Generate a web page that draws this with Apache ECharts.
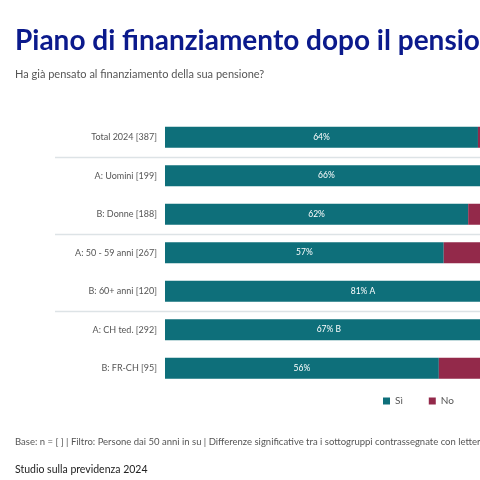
<!DOCTYPE html>
<html><head><meta charset="utf-8">
<script src="https://cdn.jsdelivr.net/npm/echarts@6/dist/echarts.min.js"></script>
<style>html,body{margin:0;padding:0;background:#fff}#c{width:480px;height:480px}</style>
</head><body><div id="c"></div>
<script>
const categories = ["Total 2024 [387]","A: Uomini [199]","B: Donne [188]","A: 50 - 59 anni [267]","B: 60+ anni [120]","A: CH ted. [292]","B: FR-CH [95]"];
const siValues = [64,66,62,57,81,67,56];
const noValues = [36,34,38,43,19,33,44];
const sigLetters = ["","","","","A","B",""];
const separatorsAfter = [0,2,4];
const font = "Lato, 'Noto Sans', sans-serif";
const chart = echarts.init(document.getElementById('c'));
chart.setOption({
  animation:false,
  textStyle:{fontFamily:font},
  title:[
    {text:"Piano di finanziamento dopo il pensionamento",left:10,top:22,textStyle:{fontSize:28,fontWeight:'bold',color:'#0b1a8c',fontFamily:font}},
    {text:"Ha già pensato al finanziamento della sua pensione?",left:10,top:64,textStyle:{fontSize:11,fontWeight:'normal',color:'#555',fontFamily:font}},
    {text:"Base: n = [ ] | Filtro: Persone dai 50 anni in su | Differenze significative tra i sottogruppi contrassegnate con lettere maiuscole (p<0.05)",left:10,top:432,textStyle:{fontSize:9.5,fontWeight:'normal',color:'#555',fontFamily:font}},
    {text:"Studio sulla previdenza 2024",left:10,top:459,textStyle:{fontSize:10.5,fontWeight:'normal',color:'#222',fontFamily:font}}
  ],
  legend:{left:378,top:391,itemWidth:7,itemHeight:7,itemGap:26,icon:'rect',textStyle:{fontSize:10,color:'#555'},data:["Sì","No"]},
  grid:{left:165,top:118,width:489,height:269.5,outerBoundsMode:'none',containLabel:false},
  xAxis:{type:'value',min:0,max:100,show:false},
  yAxis:{type:'category',inverse:true,data:categories,axisLine:{show:false},axisTick:{show:false},
    axisLabel:{fontSize:9,color:'#555',margin:8}},
  series:[
    {name:"Sì",type:'bar',stack:'t',data:siValues,barWidth:21,itemStyle:{color:'#0e6f7a'},
     label:{show:true,position:'inside',color:'#fff',fontSize:8.5,formatter:p=>p.value+'%'+(sigLetters[p.dataIndex]?' '+sigLetters[p.dataIndex]:'')}},
    {name:"No",type:'bar',stack:'t',data:noValues,barWidth:21,itemStyle:{color:'#93294a'},
     label:{show:true,position:'inside',color:'#fff',fontSize:8.5,formatter:p=>p.value+'%'}}
  ]
});
const gr = [];
separatorsAfter.forEach(i=>{
  const y1 = chart.convertToPixel({yAxisIndex:0}, categories[i]);
  const y2 = chart.convertToPixel({yAxisIndex:0}, categories[i+1]);
  const y = Math.round((y1+y2)/2)+0.5;
  gr.push({type:'line',shape:{x1:55,y1:y,x2:480,y2:y},style:{stroke:'#dde3e6',lineWidth:1.5}});
});
chart.setOption({graphic:gr});
</script></body></html>
